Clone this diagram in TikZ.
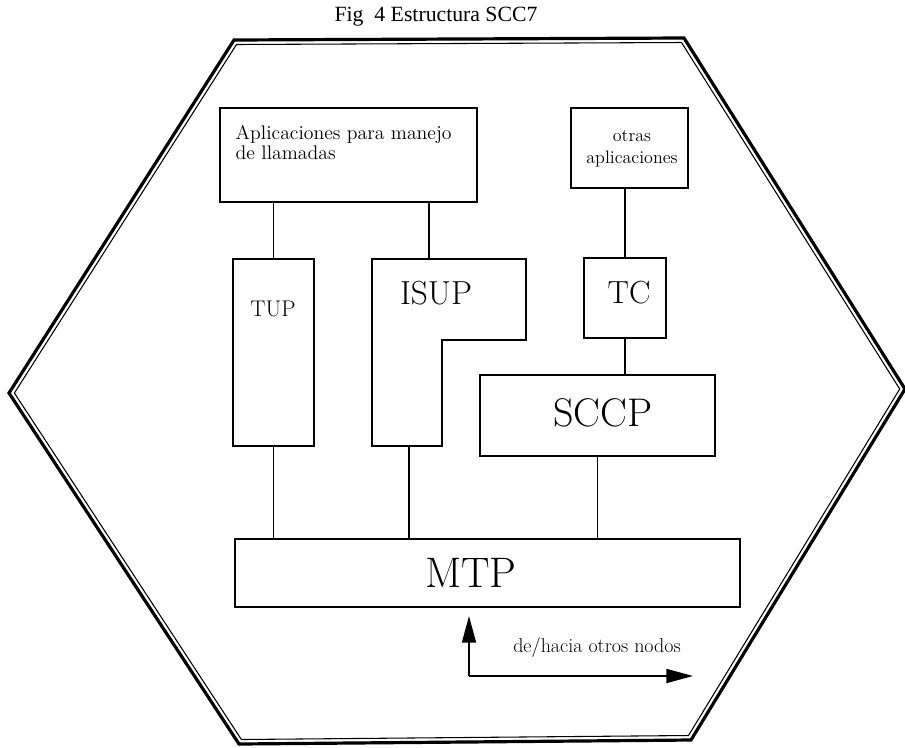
\documentclass[tikz,border=0pt]{standalone}
\usepackage{fontspec}
\newfontfamily\titlefont{Liberation Serif}
\usetikzlibrary{arrows.meta,fit}
\begin{document}
\begin{tikzpicture}[x=0.75pt,y=-0.75pt,
  box/.style={draw, line width=1.2pt, inner sep=0pt},
  link/.style={line width=1.2pt},
  flow/.style={line width=1.3pt, -{Triangle[length=20pt,width=10.5pt]}},
  small/.style={font=\fontsize{14.8}{14.5}\selectfont},
  big/.style={inner sep=0pt}]
\useasboundingbox (0,0) rectangle (905,747);

% title
\node[anchor=base, font=\titlefont\fontsize{16.3}{16.3}\selectfont] (title) at (436,21) {Fig\ \ 4 Estructura SCC7};

% hexagonal frame: thick outer line with a thin line just inside
\draw[line width=2.4pt, line join=miter]
  (234,40) -- (684,38) -- (905,389) -- (691,740) -- (239,744) -- (9,393) -- cycle;
\draw[line width=0.8pt, line join=miter]
  (236.5,44.5) -- (681.5,42.5) -- (899.7,389) -- (688.5,735.5) -- (241.4,739.5) -- (14.4,393) -- cycle;

% upper applications
\node[box, fit={(220,108) (477,202)}] (apps) {};
\node[small, anchor=north west, align=left] (appstext) at (231,121)
  {Aplicaciones para manejo\\de llamadas};
\node[box, fit={(571,108) (688,188)}] (otras) {};
\node[font=\fontsize{13.5}{16.5}\selectfont, align=center] (otrastext) at (632,149)
  {otras\\aplicaciones};

% user parts and transaction capabilities
\node[box, fit={(233,259) (314,446)}] (tup) {};
\node[big, font=\fontsize{17}{17}\selectfont] (tuptext) at (273,309) {TUP};

\draw[line width=1.2pt, line join=miter]
  (372,259) -- (526,259) -- (526,340) -- (442,340) -- (442,446) -- (372,446) -- cycle;
\coordinate (isuptop) at (429,259);
\coordinate (isupbot) at (409,446);
\node[big, font=\fontsize{25}{25}\selectfont] (isuptext) at (436,293) {ISUP};

\node[box, fit={(584,258) (666,338)}] (tc) {};
\node[big, font=\fontsize{24}{24}\selectfont] (tctext) at (629,293) {TC};

\node[box, fit={(480,375) (715,456)}] (sccp) {};
\node[big, font=\fontsize{30}{30}\selectfont] (sccptext) at (603,413) {SCCP};

\node[box, fit={(235,539) (740,607)}] (mtp) {};
\node[big, font=\fontsize{32}{32}\selectfont] (mtptext) at (471,573) {MTP};

% connections between the layers
\draw[link] (tup.north) -- (tup.north |- apps.south);
\draw[link] (isuptop) -- (isuptop |- apps.south);
\draw[link] (tc.north) -- (tc.north |- otras.south);
\draw[link] (tc.south) -- (tc.south |- sccp.north);
\draw[link] (tup.south) -- (tup.south |- mtp.north);
\draw[link] (isupbot) -- (isupbot |- mtp.north);
\draw[link] (sccp.south) -- (sccp.south |- mtp.north);

% signalling towards other nodes
\coordinate (corner) at (469,676);
\coordinate (uptip) at (469,616);
\coordinate (righttip) at (693,676);
\draw[flow] (corner) -- (uptip);
\draw[flow] (corner) -- (righttip);
\node[font=\fontsize{15}{15}\selectfont] (nodos) at (597,647) {de/hacia otros nodos};
\end{tikzpicture}
\end{document}
